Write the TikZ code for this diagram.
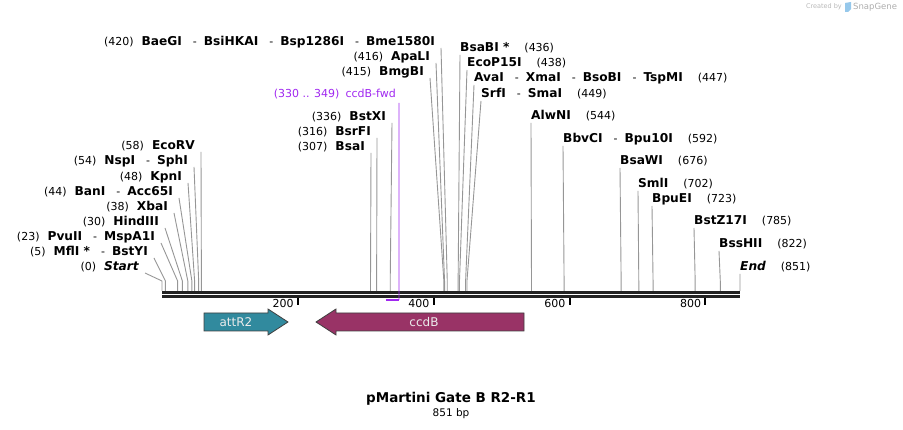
\documentclass[tikz,border=0pt]{standalone}
\usepackage{fontspec}
\setmainfont{DejaVu Sans}
\definecolor{cutgray}{RGB}{150,150,150}
\definecolor{bbone}{RGB}{34,34,34}
\definecolor{primer}{RGB}{160,40,240}
\definecolor{attr}{RGB}{49,138,158}
\definecolor{ccdb}{RGB}{153,51,102}
\definecolor{logo}{RGB}{150,200,235}
\newcommand\enz[1]{{\fontsize{12.2}{14}\selectfont\bfseries #1}}
\newcommand\sep{\hspace{11pt}-\hspace{7pt}}

\begin{document}
\begin{tikzpicture}[x=1pt,y=-1pt]
  \tikzstyle{every node}=[font=\fontsize{11}{13}\selectfont]
  \tikzstyle{site}=[inner sep=0pt]
  \tikzstyle{cut}=[draw=cutgray,line width=0.9pt]
  \tikzstyle{feat}=[draw=black!75,line width=0.8pt]
  \def\sc{0.6792}
  \def\ox{162}
  \useasboundingbox (0,0) rectangle (903,430);

  % backbone and ruler
  \draw[bbone,line width=3pt] (\ox,292.2) -- (740,292.2);
  \draw[bbone,line width=3pt] (\ox,296.5) -- (740,296.5);
  \foreach \t in {200,400,600,800} {
    \draw[line width=2pt] ({\ox+\t*\sc},298) -- ++(0,7);
    \node[site,anchor=east] (t\t) at ({\ox+\t*\sc-4},303) {\t};
  }

  % sites labelled on the left
  \foreach \n/\x/\y/\t in {
      0/139/267/{\enz{\itshape Start}},
      5/148/252/{\enz{MflI *}\sep\enz{BstYI}},
      23/155/237/{\enz{PvuII}\sep\enz{MspA1I}},
      30/159/222/{\enz{HindIII}},
      38/168/207/{\enz{XbaI}},
      44/173/192/{\enz{BanI}\sep\enz{Acc65I}},
      48/182/177/{\enz{KpnI}},
      54/188/161/{\enz{NspI}\sep\enz{SphI}},
      58/195/146/{\enz{EcoRV}},
      307/365/147/{\enz{BsaI}},
      316/371/132/{\enz{BsrFI}},
      336/386/117/{\enz{BstXI}},
      415/424/72/{\enz{BmgBI}},
      416/430/57/{\enz{ApaLI}},
      420/435/42/{\enz{BaeGI}\sep\enz{BsiHKAI}\sep\enz{Bsp1286I}\sep\enz{Bme1580I}}} {
    \node[site,anchor=east] (l\n) at (\x,\y) {(\n)\hspace{8pt}\t};
    \coordinate (k\n) at ({\ox+\n*\sc},281);
    \coordinate (b\n) at ({\ox+\n*\sc},291);
    \draw[cut] ([xshift=6pt,yshift=-6pt]l\n.east) -- (k\n) -- (b\n);
  }

  % sites labelled on the right
  \foreach \n/\x/\y/\t in {
      436/460/48/{\enz{BsaBI *}},
      438/467/63/{\enz{EcoP15I}},
      447/474/78/{\enz{AvaI}\sep\enz{XmaI}\sep\enz{BsoBI}\sep\enz{TspMI}},
      449/481/94/{\enz{SrfI}\sep\enz{SmaI}},
      544/531/116/{\enz{AlwNI}},
      592/563/139/{\enz{BbvCI}\sep\enz{Bpu10I}},
      676/620/161/{\enz{BsaWI}},
      702/638/184/{\enz{SmlI}},
      723/652/199/{\enz{BpuEI}},
      785/694/221/{\enz{BstZ17I}},
      822/719/244/{\enz{BssHII}},
      851/740/267/{\enz{\itshape End}}} {
    \node[site,anchor=west] (r\n) at (\x,\y) {\t\hspace{15pt}(\n)};
    \coordinate (k\n) at ({\ox+\n*\sc},281);
    \coordinate (b\n) at ({\ox+\n*\sc},291);
    \draw[cut] ([yshift=-7pt]r\n.west) -- (k\n) -- (b\n);
  }

  % primer
  \node[site,anchor=east,text=primer] (pf) at (396,94) {(330 .. 349)\hspace{6pt}ccdB-fwd};
  \coordinate (p330) at ({\ox+330*\sc},300);
  \coordinate (p349) at ({\ox+349*\sc},300);
  \draw[primer,line width=0.9pt] ([xshift=3pt,yshift=-9pt]pf.east) -- (p349);
  \draw[primer,line width=2pt] (p330) -- (p349);

  % features
  \draw[feat,fill=attr] (204,313) -- (268,313) -- (268,309) -- (288,322)
    -- (268,335) -- (268,331) -- (204,331) -- cycle;
  \node[text=white!92!black,font=\fontsize{12}{14}\selectfont] (attR2) at (236,322) {attR2};
  \draw[feat,fill=ccdb] (524,313) -- (336,313) -- (336,309) -- (316,322)
    -- (336,335) -- (336,331) -- (524,331) -- cycle;
  \node[text=white!92!black,font=\fontsize{12}{14}\selectfont] (ccdB) at (424,322) {ccdB};

  % title
  \node[font=\bfseries\fontsize{13.5}{16}\selectfont] (title) at (451,399) {pMartini Gate B R2-R1};
  \node[font=\fontsize{10.5}{12}\selectfont] (len) at (451,414) {851 bp};

  % watermark
  \node[site,anchor=east,text=black!28,font=\fontsize{6.5}{8}\selectfont] (wm1) at (842,7) {Created by};
  \fill[logo] (845,3) -- (851,2) -- (851,9) -- (848,12) -- (845,12) -- cycle;
  \node[site,anchor=west,text=black!32,font=\fontsize{8.5}{10}\selectfont] (wm2) at (853,7) {SnapGene};
\end{tikzpicture}
\end{document}
